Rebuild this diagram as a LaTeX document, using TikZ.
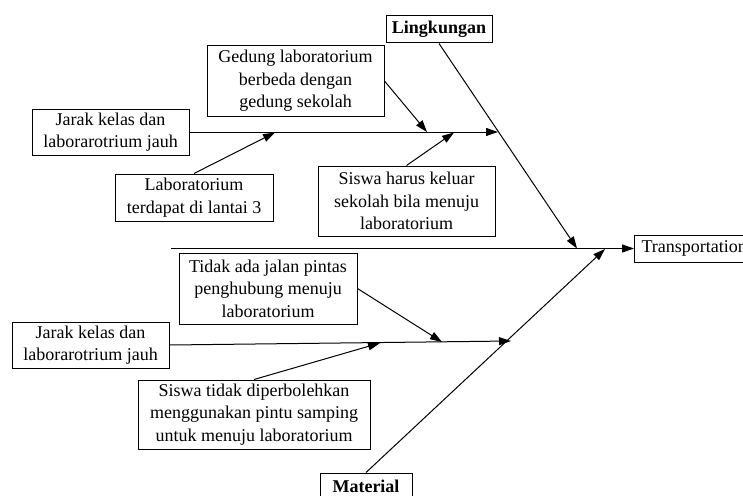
\documentclass[tikz,border=0pt]{standalone}
\usepackage{fontspec}
\setmainfont{Liberation Serif}
\usetikzlibrary{arrows.meta}
\begin{document}
\begin{tikzpicture}[x=1pt,y=-1pt,
  box/.style={draw, line width=1pt, align=center, inner sep=0pt, fill=white,
    font=\fontsize{18}{22.5}\selectfont},
  arr/.style={-{Triangle[length=12pt,width=8pt]}, line width=1pt},
  ln/.style={line width=1pt}]
\useasboundingbox (0,0) rectangle (743,495);
% nodes
\node[box, font=\fontsize{18}{22.5}\selectfont\bfseries, minimum width=106pt, minimum height=27pt] (ling) at (439,29.5) {Lingkungan};
\node[box, anchor=west, minimum width=130pt, minimum height=27pt, inner xsep=7pt, align=left, text width=116pt] (trans) at (634,248.5) {Transportation};
\node[box, minimum width=157pt, minimum height=46pt] (jarakA) at (110.5,132) {Jarak kelas dan\\laborarotrium jauh};
\node[box, minimum width=177pt, minimum height=70pt] (gedung) at (295.5,81) {Gedung laboratorium\\berbeda dengan\\gedung sekolah};
\node[box, minimum width=158pt, minimum height=47pt] (lab) at (194,197.5) {Laboratorium\\terdapat di lantai 3};
\node[box, minimum width=177pt, minimum height=70pt] (siswaA) at (406.5,201) {Siswa harus keluar\\sekolah bila menuju\\laboratorium};
\node[box, minimum width=178pt, minimum height=71pt] (tidak) at (268,288.5) {Tidak ada jalan pintas\\penghubung menuju\\laboratorium};
\node[box, minimum width=157pt, minimum height=46pt] (jarakB) at (90.5,345) {Jarak kelas dan\\laborarotrium jauh};
\node[box, minimum width=232pt, minimum height=69pt] (siswaB) at (254,414.5) {Siswa tidak diperbolehkan\\menggunakan pintu samping\\untuk menuju laboratorium};
\node[box, font=\fontsize{18}{22.5}\selectfont\bfseries, minimum width=92pt, minimum height=27pt] (mat) at (366,486.5) {Material};
% coordinates on the lines
\coordinate (spineStart) at (171,248.5);
\coordinate (lingEnd) at (577,248.5);
\coordinate (matEnd) at (605,249);
\coordinate (bA) at (498,132);
\coordinate (gA) at (427,132);
\coordinate (lA) at (275,132.5);
\coordinate (sA) at (454,132.5);
\coordinate (bB) at (511,341);
\coordinate (tB) at (442,342);
\coordinate (sB) at (380,343);
% connectors
\draw[arr] (spineStart) -- (trans.west);
\draw[arr] (ling.south) -- (lingEnd);
\draw[arr] (mat.north) -- (matEnd);
\draw[arr] (jarakA.east) -- (bA);
\draw[arr] (gedung.east) -- (gA);
\draw[arr] (lab.north) -- (lA);
\draw[arr] (siswaA.north) -- (sA);
\draw[arr] (jarakB.east) -- (bB);
\draw[arr] (tidak.east) -- (tB);
\draw[arr] (siswaB.north) -- (sB);
\end{tikzpicture}
\end{document}
